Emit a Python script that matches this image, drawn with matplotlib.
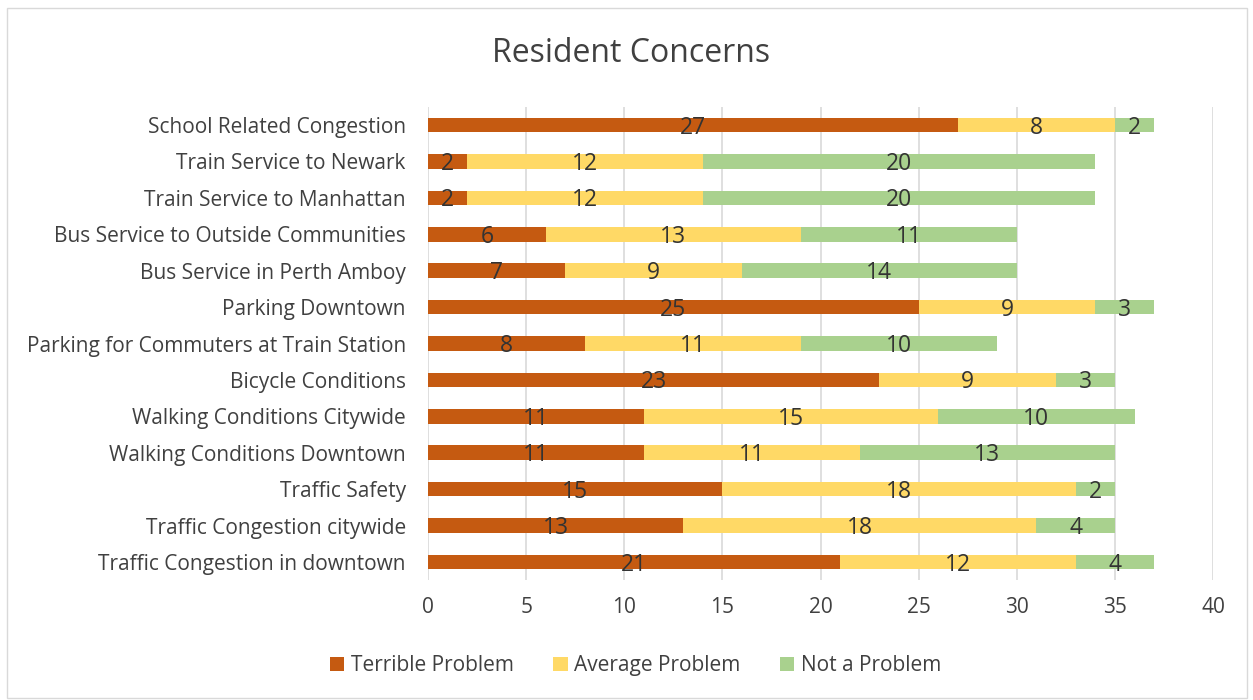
import matplotlib.pyplot as plt
import matplotlib.patches as mpatches
import numpy as np

# data, listed bottom to top as drawn
categories = [
    "Traffic Congestion in downtown",
    "Traffic Congestion citywide",
    "Traffic Safety",
    "Walking Conditions Downtown",
    "Walking Conditions Citywide",
    "Bicycle Conditions",
    "Parking for Commuters at Train Station",
    "Parking Downtown",
    "Bus Service in Perth Amboy",
    "Bus Service to Outside Communities",
    "Train Service to Manhattan",
    "Train Service to Newark",
    "School Related Congestion",
]
terrible = [21, 13, 15, 11, 11, 23, 8, 25, 7, 6, 2, 2, 27]
average = [12, 18, 18, 11, 15, 9, 11, 9, 9, 13, 12, 12, 8]
not_problem = [4, 4, 2, 13, 10, 3, 10, 3, 14, 11, 20, 20, 2]
series_names = ["Terrible Problem", "Average Problem", "Not a Problem"]
colors = ["#C55A11", "#FFD966", "#A9D18E"]

plt.rcParams['font.family'] = ['Open Sans', 'DejaVu Sans']
text_color = "#404040"

fig = plt.figure(figsize=(12.53, 7.0), dpi=100)
ax = fig.add_axes([0.3416, 0.1711, 0.6265, 0.6763])

y = np.arange(len(categories))
left = np.zeros(len(categories))
for vals, name, col in zip([terrible, average, not_problem], series_names, colors):
    bars = ax.barh(y, vals, left=left, height=0.4, color=col, label=name, zorder=3)
    for b, v in zip(bars, vals):
        ax.text(b.get_x() + b.get_width() / 2, b.get_y() + b.get_height() / 2 - 0.07,
                str(v), ha='center', va='center', fontsize=16.5, color="#333333", zorder=4)
    left += np.array(vals)

ax.set_xlim(0, 40)
ax.set_ylim(-0.5, len(categories) - 0.5)
ax.set_xticks(range(0, 41, 5))
ax.set_yticks(y)
ax.set_yticklabels(categories)
ax.tick_params(axis='both', length=0, labelsize=15, colors=text_color)
ax.tick_params(axis='y', pad=16)
ax.tick_params(axis='x', pad=12)
ax.grid(axis='x', color='#D9D9D9', linewidth=1.2, zorder=0)
for s in ax.spines.values():
    s.set_visible(False)

fig.text(0.5035, 0.923, "Resident Concerns", ha='center', va='center', fontsize=23, color=text_color)

fig.legend(loc='center', bbox_to_anchor=(0.507, 0.049), ncol=3, frameon=False,
           fontsize=15, handlelength=0.7, handleheight=0.7, handletextpad=0.3,
           columnspacing=1.9, labelcolor=text_color)

fig.patches.append(mpatches.Rectangle((0.0056, 0.003), 0.99, 0.985, transform=fig.transFigure,
                                      fill=False, edgecolor='#D9D9D9', linewidth=1))

fig.savefig("out.png", dpi=100)
